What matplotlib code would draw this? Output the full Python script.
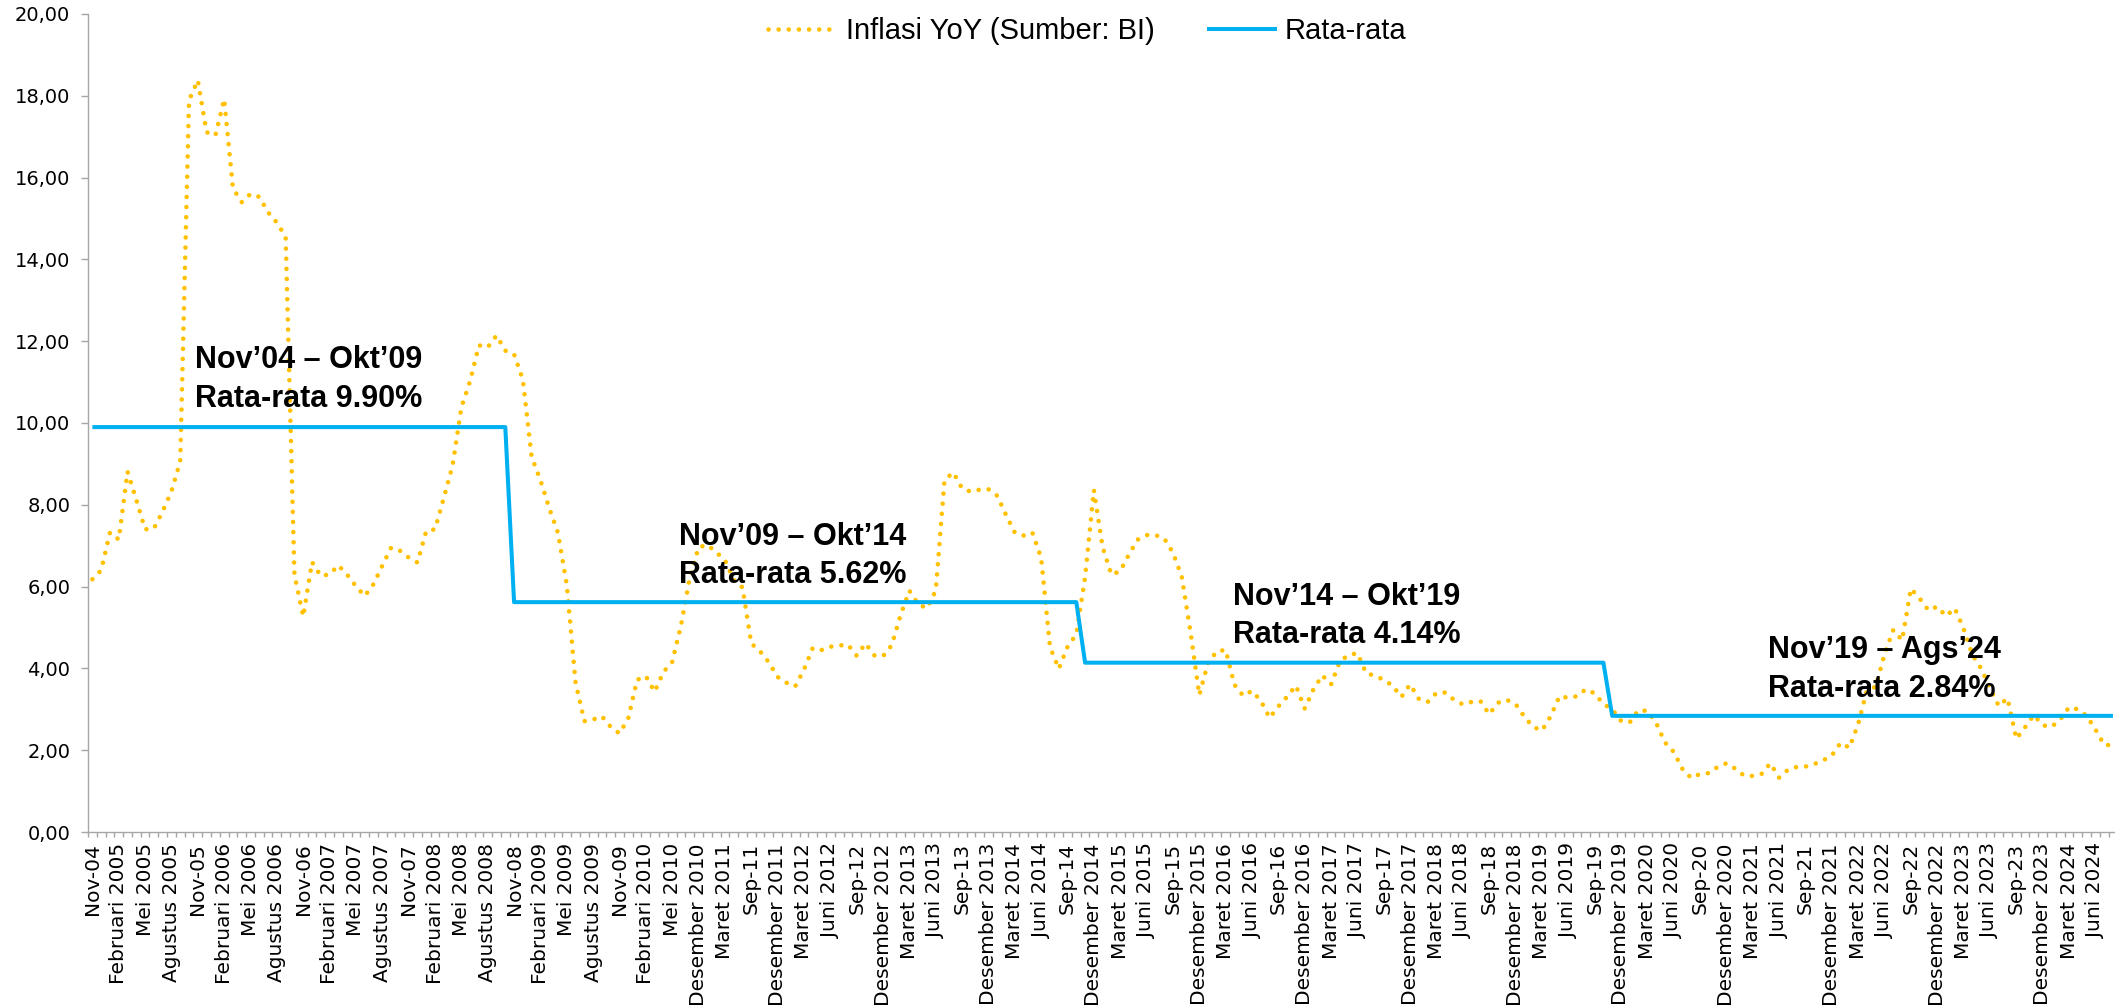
import numpy as np
import matplotlib
matplotlib.use("Agg")
from matplotlib import pyplot as plt
from matplotlib.ticker import FuncFormatter, FixedLocator

# Inflasi YoY (Sumber: BI), data bulanan seperti di grafik
# (Agu-Nov 2010 dan Jun-Agu 2011 tidak ada di data sumber)
inflasi_2004 = [6.18, 6.40]
inflasi_2005 = [7.32, 7.15, 8.81, 8.12, 7.40, 7.42, 7.84, 8.33, 9.06, 17.89, 18.38, 17.11]
inflasi_2006 = [17.03, 17.92, 15.74, 15.40, 15.60, 15.53, 15.15, 14.90, 14.55, 6.29, 5.27, 6.60]
inflasi_2007 = [6.26, 6.30, 6.52, 6.29, 6.01, 5.77, 6.06, 6.51, 6.95, 6.88, 6.71, 6.59]
inflasi_2008 = [7.36, 7.40, 8.17, 8.96, 10.38, 11.03, 11.90, 11.85, 12.14, 11.77, 11.68, 11.06]
inflasi_2009 = [9.17, 8.60, 7.92, 7.31, 6.04, 3.65, 2.71, 2.75, 2.83, 2.57, 2.41, 2.78]
inflasi_2010 = [3.72, 3.81, 3.43, 3.91, 4.16, 5.05, 6.22, 6.96]
inflasi_2011 = [7.02, 6.84, 6.65, 6.16, 5.98, 4.61, 4.42, 4.15, 3.79]
inflasi_2012 = [3.65, 3.56, 3.97, 4.50, 4.45, 4.53, 4.56, 4.58, 4.31, 4.61, 4.32, 4.30]
inflasi_2013 = [4.57, 5.31, 5.90, 5.57, 5.47, 5.90, 8.61, 8.79, 8.40, 8.32, 8.37, 8.38]
inflasi_2014 = [8.22, 7.75, 7.32, 7.25, 7.32, 6.70, 4.53, 3.99, 4.53, 4.83, 6.23, 8.36]
inflasi_2015 = [6.96, 6.29, 6.38, 6.79, 7.15, 7.26, 7.26, 7.18, 6.83, 6.25, 4.89, 3.35]
inflasi_2016 = [4.14, 4.42, 4.45, 3.60, 3.33, 3.45, 3.21, 2.79, 3.07, 3.31, 3.58, 3.02]
inflasi_2017 = [3.49, 3.83, 3.61, 4.17, 4.33, 4.37, 3.88, 3.82, 3.72, 3.58, 3.30, 3.61]
inflasi_2018 = [3.25, 3.18, 3.40, 3.41, 3.23, 3.12, 3.18, 3.20, 2.88, 3.16, 3.23, 3.13]
inflasi_2019 = [2.82, 2.57, 2.48, 2.83, 3.32, 3.28, 3.32, 3.49, 3.39, 3.13, 3.00, 2.72]
inflasi_2020 = [2.68, 2.98, 2.96, 2.67, 2.19, 1.96, 1.54, 1.32, 1.42, 1.44, 1.59, 1.68]
inflasi_2021 = [1.55, 1.38, 1.37, 1.42, 1.68, 1.33, 1.52, 1.59, 1.60, 1.66, 1.75, 1.87]
inflasi_2022 = [2.18, 2.06, 2.64, 3.47, 3.55, 4.35, 4.94, 4.69, 5.95, 5.71, 5.42, 5.51]
inflasi_2023 = [5.28, 5.47, 4.97, 4.33, 4.00, 3.52, 3.08, 3.27, 2.28, 2.56, 2.86, 2.61]
inflasi_2024 = [2.57, 2.75, 3.05, 3.00, 2.84, 2.51, 2.13, 2.12]

# rata-rata per periode dan indeks kategori awal tiap periode
rata_rata = [9.90, 5.62, 4.14, 2.84]
awal_periode = [0, 48, 113, 173]

tick_labels = [
    "Nov-04", "Februari 2005", "Mei 2005", "Agustus 2005",
    "Nov-05", "Februari 2006", "Mei 2006", "Agustus 2006",
    "Nov-06", "Februari 2007", "Mei 2007", "Agustus 2007",
    "Nov-07", "Februari 2008", "Mei 2008", "Agustus 2008",
    "Nov-08", "Februari 2009", "Mei 2009", "Agustus 2009",
    "Nov-09", "Februari 2010", "Mei 2010", "Desember 2010",
    "Maret 2011", "Sep-11", "Desember 2011",
    "Maret 2012", "Juni 2012", "Sep-12", "Desember 2012",
    "Maret 2013", "Juni 2013", "Sep-13", "Desember 2013",
    "Maret 2014", "Juni 2014", "Sep-14", "Desember 2014",
    "Maret 2015", "Juni 2015", "Sep-15", "Desember 2015",
    "Maret 2016", "Juni 2016", "Sep-16", "Desember 2016",
    "Maret 2017", "Juni 2017", "Sep-17", "Desember 2017",
    "Maret 2018", "Juni 2018", "Sep-18", "Desember 2018",
    "Maret 2019", "Juni 2019", "Sep-19", "Desember 2019",
    "Maret 2020", "Juni 2020", "Sep-20", "Desember 2020",
    "Maret 2021", "Juni 2021", "Sep-21", "Desember 2021",
    "Maret 2022", "Juni 2022", "Sep-22", "Desember 2022",
    "Maret 2023", "Juni 2023", "Sep-23", "Desember 2023",
    "Maret 2024", "Juni 2024",
]

GOLD = '#FFC000'
BLUE = '#00B0F0'
AXIS_GREY = '#A6A6A6'

inflasi = np.concatenate([inflasi_2004, inflasi_2005, inflasi_2006, inflasi_2007, inflasi_2008,
                          inflasi_2009, inflasi_2010, inflasi_2011, inflasi_2012, inflasi_2013,
                          inflasi_2014, inflasi_2015, inflasi_2016, inflasi_2017, inflasi_2018,
                          inflasi_2019, inflasi_2020, inflasi_2021, inflasi_2022, inflasi_2023,
                          inflasi_2024])
n = len(inflasi)
x = np.arange(n)
panjang = np.diff(awal_periode + [n])
rata = np.repeat(rata_rata, panjang)

fig = plt.figure(figsize=(21.15, 10.07), dpi=100)
ax = fig.add_axes([88 / 2115, 175 / 1007, n * 8.785 / 2115, 818 / 1007])

ax.plot(x, inflasi, color=GOLD, lw=3.3, linestyle=(0, (0.01, 2.2)),
        dash_capstyle='round', label='Inflasi YoY (Sumber: BI)')
ax.plot(x, rata, color=BLUE, lw=2.9, solid_capstyle='butt', label='Rata-rata')

ax.set_xlim(-0.5, n - 0.5)
ax.set_ylim(0, 20)
ax.set_yticks(np.arange(0, 21, 2))
ax.yaxis.set_major_formatter(FuncFormatter(lambda v, _: f'{v:.2f}'.replace('.', ',')))

ax.set_xticks(np.arange(0, n, 3))
ax.set_xticklabels(tick_labels, rotation=90, fontsize=14.5, family='DejaVu Sans')
ax.xaxis.set_minor_locator(FixedLocator(np.arange(-0.5, n, 1)))
ax.tick_params(axis='x', which='major', length=0, pad=8)
ax.tick_params(axis='x', which='minor', length=3.6, width=1, color=AXIS_GREY)
ax.tick_params(axis='y', which='major', length=4.8, width=1, color=AXIS_GREY,
               labelsize=14, pad=8)

for side in ('top', 'right'):
    ax.spines[side].set_visible(False)
for side in ('left', 'bottom'):
    ax.spines[side].set_color(AXIS_GREY)
    ax.spines[side].set_linewidth(1)

note_font = dict(family=['Liberation Sans', 'DejaVu Sans'], fontweight='bold',
                 fontsize=22, ha='left', va='baseline', color='black')
ax.text(11.7, 11.34, 'Nov’04 – Okt’09', **note_font)
ax.text(11.7, 10.39, 'Rata-rata 9.90%', **note_font)
ax.text(66.8, 7.02, 'Nov’09 – Okt’14', **note_font)
ax.text(66.8, 6.09, 'Rata-rata 5.62%', **note_font)
ax.text(129.8, 5.55, 'Nov’14 – Okt’19', **note_font)
ax.text(129.8, 4.62, 'Rata-rata 4.14%', **note_font)
ax.text(190.7, 4.25, 'Nov’19 – Ags’24', **note_font)
ax.text(190.7, 3.30, 'Rata-rata 2.84%', **note_font)

fig.legend(loc='center', bbox_to_anchor=(0.514, 0.969), ncol=2, frameon=False,
           prop=dict(family=['Liberation Sans', 'DejaVu Sans'], size=21),
           handlelength=2.4, handletextpad=0.25, columnspacing=1.8)

fig.savefig('out.png', dpi=100)
